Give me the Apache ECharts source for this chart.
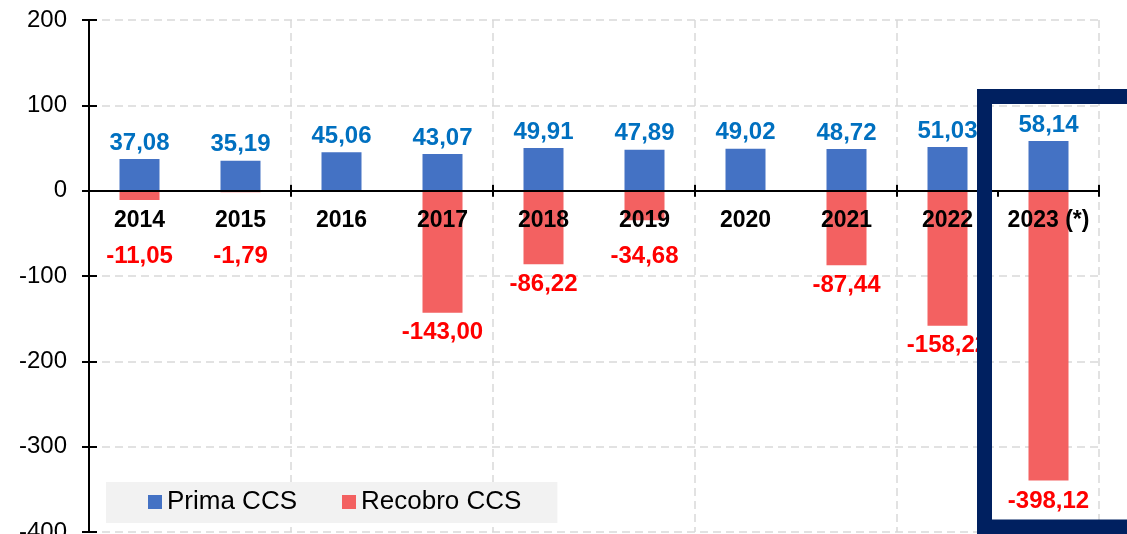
<!DOCTYPE html>
<html>
<head>
<meta charset="utf-8">
<script src="https://cdn.jsdelivr.net/npm/echarts@6/dist/echarts.min.js"></script>
<style>
html,body{margin:0;padding:0;background:#fff;}
#main{width:1127px;height:534px;}
</style>
</head>
<body>
<div id="main"></div>
<script>
const categories = ['2014','2015','2016','2017','2018','2019','2020','2021','2022','2023 (*)'];
const primaValues = [37.08, 35.19, 45.06, 43.07, 49.91, 47.89, 49.02, 48.72, 51.03, 58.14];
const recobroValues = [-11.05, -1.79, null, -143.00, -86.22, -34.68, null, -87.44, -158.22, -398.12];
const yTicks = {min: -400, max: 200, interval: 100};

const FONT = 'Liberation Sans, Arial, sans-serif';
const fmt = v => v.toFixed(2).replace('.', ',');

const chart = echarts.init(document.getElementById('main'), null, {renderer: 'canvas'});

const option = {
  animation: false,
  textStyle: {fontFamily: FONT},
  grid: {left: 89, right: 28, top: 20, bottom: 2, containLabel: false, outerBoundsMode: 'none'},
  legend: {
    data: ['Prima CCS', 'Recobro CCS'],
    icon: 'rect', itemWidth: 14, itemHeight: 14, itemGap: 45,
    left: 106, top: 482,
    padding: [7, 36, 8, 42],
    backgroundColor: '#F2F2F2',
    textStyle: {fontSize: 26, color: '#000', fontFamily: FONT}
  },
  xAxis: [
    {
      type: 'category', data: categories, position: 'bottom',
      axisLine: {show: false, onZero: false},
      axisTick: {show: false}, axisLabel: {show: false},
      splitLine: {show: true, interval: 1, lineStyle: {color: '#D9D9D9', width: 1.5, type: [8, 5]}}
    },
    {
      type: 'category', data: categories, position: 'bottom', z: 10, offset: 0,
      axisLine: {show: true, onZero: false, lineStyle: {color: '#000', width: 2}},
      axisTick: {show: true, interval: 1, inside: false, length: 6, lineStyle: {color: '#000', width: 2}},
      axisLabel: {show: true, interval: 0, margin: 18, fontSize: 23, fontWeight: 'bold', color: '#000', fontFamily: FONT},
      splitLine: {show: false}
    },
    {
      type: 'category', data: categories, position: 'bottom', z: 10, offset: 0,
      axisLine: {show: false, onZero: false},
      axisTick: {show: true, interval: 1, inside: true, length: 6, lineStyle: {color: '#000', width: 2}},
      axisLabel: {show: false}, splitLine: {show: false}
    }
  ],
  yAxis: [
    {
      type: 'value', position: 'left', min: yTicks.min, max: yTicks.max, interval: yTicks.interval,
      axisLine: {show: true, onZero: false, lineStyle: {color: '#000', width: 2}},
      axisTick: {show: true, inside: false, length: 7, lineStyle: {color: '#000', width: 2}},
      axisLabel: {fontSize: 24, color: '#000', margin: 22, fontFamily: FONT},
      splitLine: {show: true, lineStyle: {color: '#D9D9D9', width: 1.5, type: [8, 5]}}
    },
    {
      type: 'value', position: 'left', min: yTicks.min, max: yTicks.max, interval: yTicks.interval,
      axisLine: {show: false, onZero: false},
      axisTick: {show: true, inside: true, length: 8, lineStyle: {color: '#000', width: 2}},
      axisLabel: {show: false}, splitLine: {show: false}
    }
  ],
  series: [
    {
      name: 'Prima CCS', type: 'bar', xAxisIndex: 0, yAxisIndex: 0,
      data: primaValues, barWidth: 40, barGap: '-100%',
      itemStyle: {color: '#4472C4'},
      label: {show: true, position: 'top', distance: 4, color: '#0070C0', fontSize: 24, fontWeight: 'bold', fontFamily: FONT,
              formatter: p => fmt(p.value)}
    },
    {
      name: 'Recobro CCS', type: 'bar', xAxisIndex: 0, yAxisIndex: 0,
      data: recobroValues, barWidth: 40, barGap: '-100%',
      itemStyle: {color: '#F36161'},
      label: {show: true, position: 'bottom', distance: 8, color: '#FF0000', fontSize: 24, fontWeight: 'bold', fontFamily: FONT,
              formatter: p => (p.value == null ? '' : fmt(p.value))}
    }
  ],
  graphic: [
    {
      type: 'rect', z: 100, silent: true,
      shape: {x: 984.5, y: 96.5, width: 152, height: 430.5},
      style: {fill: 'none', stroke: '#002060', lineWidth: 15}
    }
  ]
};

chart.setOption(option);

// move the category axis up to the zero line, and place the red labels
const zeroPx = chart.convertToPixel({yAxisIndex: 0}, 0);
const bottomPx = chart.convertToPixel({yAxisIndex: 0}, yTicks.min);
const axisOffset = zeroPx - bottomPx;
const redData = recobroValues.map(v => {
  if (v == null) return {value: null};
  const end = chart.convertToPixel({yAxisIndex: 0}, v);
  const center = end + 20;
  if (center < zeroPx + 66) {
    return {value: v, label: {offset: [0, zeroPx + 66 - center]}};
  }
  if (center + 14 > bottomPx) {
    return {value: v, label: {position: 'insideBottom', distance: 8, backgroundColor: '#fff', padding: [9, 6, 9, 6]}};
  }
  return {value: v};
});
chart.setOption({
  xAxis: [{}, {offset: axisOffset}, {offset: axisOffset}],
  series: [{}, {data: redData}]
});
</script>
</body>
</html>
